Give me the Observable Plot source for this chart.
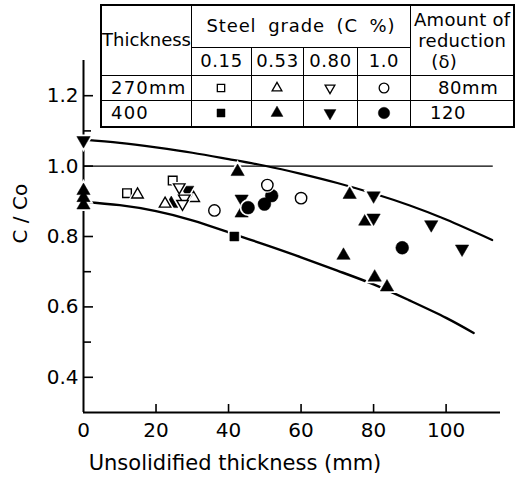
<!DOCTYPE html>
<html><head><meta charset="utf-8">
<script src="https://cdn.jsdelivr.net/npm/d3@7"></script>
<script src="https://cdn.jsdelivr.net/npm/@observablehq/plot@0.6"></script>
<style>
body{margin:0;background:#fff;}
#wrap{position:relative;width:518px;height:479px;font-family:"DejaVu Sans",sans-serif;color:#000;}
#legend{position:absolute;left:100px;top:4px;border-collapse:collapse;table-layout:fixed;background:#fff;font-size:18px;letter-spacing:0.6px;border:2px solid #000;}
#legend td{border:1.6px solid #000;padding:0;text-align:center;vertical-align:middle;line-height:1;white-space:nowrap;overflow:visible;}
</style></head><body><div id="wrap"></div>
<script>
// ---- tick labels / axis text
const xTicks = [0, 20, 40, 60, 80, 100];
const yTicks = [0.4, 0.6, 0.8, 1.0, 1.2];
const yMinorTicks = [0.5, 0.7, 0.9, 1.1];
const xLabel = "Unsolidified thickness (mm)";
const yLabel = "C / Co";

// ---- legend table text
const thicknessLabels = ["270mm", "400"];
const reductionLabels = ["80mm", "120"];
const gradeLabels = ["0.15", "0.53", "0.80", "1.0"];

// ---- measured points [unsolidified thickness (mm), C/Co]
const s270_015 = [[12.0, 0.923], [24.6, 0.959]];
const s270_053 = [[14.9, 0.919], [22.5, 0.893], [30.4, 0.909]];
const s270_080 = [[26.4, 0.940], [27.8, 0.908], [27.3, 0.893]];
const s270_100 = [[36.1, 0.874], [50.7, 0.946], [60.0, 0.909]];
const s400_015 = [[41.6, 0.800]];
const s400_053 = [[0, 0.930], [0, 0.910], [0, 0.889], [24.2, 0.893], [42.5, 0.984], [43.6, 0.866],
                  [71.7, 0.746], [73.4, 0.919], [77.7, 0.843], [80.3, 0.684], [83.7, 0.656]];
const s400_080 = [[0, 1.073], [28.6, 0.932], [43.6, 0.907], [80.0, 0.916], [80.0, 0.853], [95.9, 0.834], [104.4, 0.765]];
const s400_100 = [[45.4, 0.882], [49.9, 0.892], [51.9, 0.916], [87.9, 0.768]];

// ---- band curves and reference line
const upperCurve = [[0, 1.075], [10, 1.066], [20, 1.053], [30, 1.038], [40, 1.020], [50, 1.001], [60, 0.978],
                    [70, 0.952], [80, 0.922], [90, 0.888], [100, 0.848], [112.7, 0.790]];
const lowerCurve = [[0, 0.898], [10, 0.889], [20, 0.872], [30, 0.846], [40, 0.812], [50, 0.777], [60, 0.741],
                    [70, 0.703], [80, 0.664], [90, 0.618], [100, 0.569], [107.6, 0.526]];
const refLevel = [1.0];
const refExtent = [0, 113];
const xDomain = [0, 115];
const yDomain = [0.3, 1.3];

// ---- custom symbols
const shapes = {
  square: {draw(c, s) {const r = Math.sqrt(s / Math.PI), a = r * 0.8; c.rect(-a, -a, 2 * a, 2 * a);}},
  triangleUp: {draw(c, s) {const r = Math.sqrt(s / Math.PI), w = r * 1.15, h = w * Math.sqrt(3);
    c.moveTo(0, -2 * h / 3); c.lineTo(w, h / 3); c.lineTo(-w, h / 3); c.closePath();}},
  triangleDown: {draw(c, s) {const r = Math.sqrt(s / Math.PI), w = r * 1.15, h = w * Math.sqrt(3);
    c.moveTo(0, 2 * h / 3); c.lineTo(w, -h / 3); c.lineTo(-w, -h / 3); c.closePath();}},
  circle: {draw(c, s) {const r = Math.sqrt(s / Math.PI); c.moveTo(r, 0); c.arc(0, 0, r, 0, 2 * Math.PI);}}
};

const series = [
  {data: s400_015, shape: "square", filled: true, r: 5.6},
  {data: s400_053, shape: "triangleUp", filled: true, r: 5.8},
  {data: s400_080, shape: "triangleDown", filled: true, r: 5.8},
  {data: s400_100, shape: "circle", filled: true, r: 6.4},
  {data: s270_015, shape: "square", filled: false, r: 5.4},
  {data: s270_053, shape: "triangleUp", filled: false, r: 5.0},
  {data: s270_080, shape: "triangleDown", filled: false, r: 5.0},
  {data: s270_100, shape: "circle", filled: false, r: 5.7}
];

const dotMarks = [];
for (const s of series) {
  dotMarks.push(Plot.dot(s.data, {x: d => d[0], y: d => d[1], symbol: shapes[s.shape], r: s.r,
    fill: "white", stroke: "white", strokeWidth: 4}));
  dotMarks.push(Plot.dot(s.data, {x: d => d[0], y: d => d[1], symbol: shapes[s.shape], r: s.r,
    fill: s.filled ? "black" : "white", stroke: "black", strokeWidth: s.filled ? 0.5 : 1.4}));
}

const chart = Plot.plot({
  width: 518, height: 479,
  marginTop: 60, marginBottom: 67, marginLeft: 83, marginRight: 18,
  x: {domain: xDomain},
  y: {domain: yDomain},
  style: {fontFamily: '"DejaVu Sans", sans-serif', fontSize: "20px", color: "#000", background: "#fff", overflow: "visible"},
  marks: [
    Plot.ruleY(refLevel, {y: d => d, x1: refExtent[0], x2: refExtent[1], strokeWidth: 1.2}),
    Plot.line(upperCurve, {x: d => d[0], y: d => d[1], curve: "natural", strokeWidth: 2.2}),
    Plot.line(lowerCurve, {x: d => d[0], y: d => d[1], curve: "natural", strokeWidth: 2.4}),
    Plot.ruleX([xDomain[0]], {x: d => d, y1: yDomain[0], y2: yDomain[1], strokeWidth: 2}),
    Plot.ruleY([yDomain[0]], {y: d => d, x1: xDomain[0], x2: xDomain[1], strokeWidth: 2}),
    Plot.axisY(yTicks, {tickSize: 10, dx: 10, tickFormat: () => "", strokeWidth: 1.6, label: null}),
    Plot.axisY(yMinorTicks, {tickSize: 8, dx: 8, tickFormat: () => "", strokeWidth: 1.6, label: null}),
    Plot.axisY(yTicks, {tickSize: 0, tickPadding: 5, tickFormat: d3.format(".1f"), label: null, fontSize: 20}),
    Plot.axisX(xTicks.slice(1), {tickSize: 8, dy: -8, tickFormat: () => "", strokeWidth: 1.6, label: null}),
    Plot.axisX(xTicks, {tickSize: 0, tickPadding: 10, tickFormat: d3.format("d"), label: null, fontSize: 20}),
    Plot.text([xLabel], {text: d => d, frameAnchor: "bottom", dx: -57, dy: 51, lineAnchor: "middle", fontSize: 21, style: "letter-spacing:1.8px"}),
    Plot.text([yLabel], {text: d => d, frameAnchor: "left", rotate: -90, dx: -63, dy: 7, lineAnchor: "middle", fontSize: 20}),
    ...dotMarks
  ]
});

const wrap = document.getElementById("wrap");
wrap.appendChild(chart);

// ---- legend table
function symSvg(shape, filled, r) {
  const p = d3.path();
  shapes[shape].draw(p, Math.PI * r * r);
  return `<svg width="16" height="16" viewBox="-8 -8 16 16" style="display:block;margin:auto"><path d="${p.toString()}" fill="${filled ? "black" : "white"}" stroke="black" stroke-width="${filled ? 0.4 : 1.3}"/></svg>`;
}
const openRow = series.filter(s => !s.filled);
const fillRow = series.filter(s => s.filled);
const table = document.createElement("table");
table.id = "legend";
table.innerHTML = `
<colgroup><col style="width:90px"><col style="width:60px"><col style="width:52px"><col style="width:54px"><col style="width:53px"><col style="width:104px"></colgroup>
<tr style="height:42px"><td rowspan="2" style="letter-spacing:0">Thickness</td><td colspan="4" style="letter-spacing:0.9px;word-spacing:5px">Steel grade (C %)</td>
<td rowspan="2" style="line-height:21px;letter-spacing:0.3px">Amount of<br>reduction<br><span style="position:relative;left:-18px">(δ)</span></td></tr>
<tr style="height:28px">${gradeLabels.map(g => `<td>${g}</td>`).join("")}</tr>
<tr style="height:25px"><td style="text-align:left;padding-left:9px;letter-spacing:1.2px">${thicknessLabels[0]}</td>${openRow.map(s => `<td>${symSvg(s.shape, false, s.r * 0.85)}</td>`).join("")}<td style="text-align:left;padding-left:27px">${reductionLabels[0]}</td></tr>
<tr style="height:27px"><td style="text-align:left;padding-left:9px;letter-spacing:1.2px">${thicknessLabels[1]}</td>${fillRow.map(s => `<td>${symSvg(s.shape, true, s.r * 0.9)}</td>`).join("")}<td style="text-align:left;padding-left:19px">${reductionLabels[1]}</td></tr>`;
wrap.appendChild(table);
</script>
</body></html>
